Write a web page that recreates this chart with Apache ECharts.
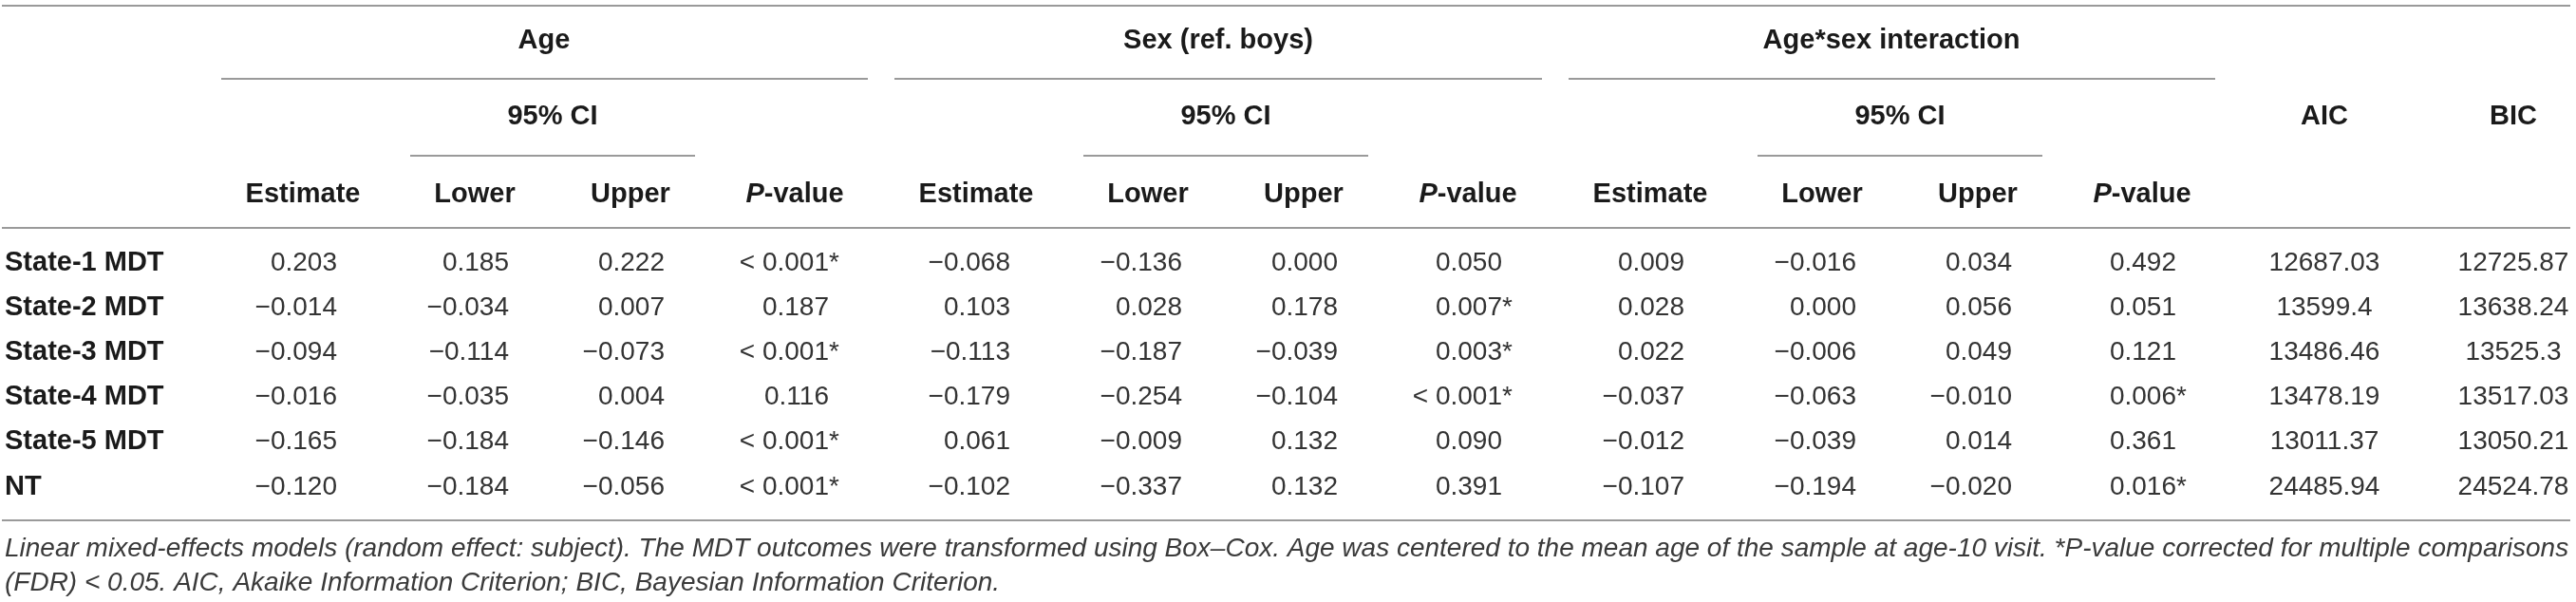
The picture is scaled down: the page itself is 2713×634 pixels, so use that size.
<!DOCTYPE html>
<html>
<head>
<meta charset="utf-8">
<script src="https://cdn.jsdelivr.net/npm/echarts@6/dist/echarts.min.js"></script>
<style>
html,body{margin:0;padding:0;background:#ffffff;}
#chart{width:2713px;height:634px;}
</style>
</head>
<body>
<div id="chart"></div>
<script>
// ---------------- DATA ----------------
const rowLabels = ['State-1 MDT', 'State-2 MDT', 'State-3 MDT', 'State-4 MDT', 'State-5 MDT', 'NT'];
const groupHeaders = ['Age', 'Sex (ref. boys)', 'Age*sex interaction'];
const subHeaders = ['Estimate', 'Lower', 'Upper', '{i|P}-value'];
const ciHeader = '95% CI';
const fitHeaders = ['AIC', 'BIC'];

const ageValues = [
  ['0.203', '0.185', '0.222', '< 0.001*'],
  ['\u22120.014', '\u22120.034', '0.007', '0.187'],
  ['\u22120.094', '\u22120.114', '\u22120.073', '< 0.001*'],
  ['\u22120.016', '\u22120.035', '0.004', '0.116'],
  ['\u22120.165', '\u22120.184', '\u22120.146', '< 0.001*'],
  ['\u22120.120', '\u22120.184', '\u22120.056', '< 0.001*']
];
const sexValues = [
  ['\u22120.068', '\u22120.136', '0.000', '0.050'],
  ['0.103', '0.028', '0.178', '0.007*'],
  ['\u22120.113', '\u22120.187', '\u22120.039', '0.003*'],
  ['\u22120.179', '\u22120.254', '\u22120.104', '< 0.001*'],
  ['0.061', '\u22120.009', '0.132', '0.090'],
  ['\u22120.102', '\u22120.337', '0.132', '0.391']
];
const interactionValues = [
  ['0.009', '\u22120.016', '0.034', '0.492'],
  ['0.028', '0.000', '0.056', '0.051'],
  ['0.022', '\u22120.006', '0.049', '0.121'],
  ['\u22120.037', '\u22120.063', '\u22120.010', '0.006*'],
  ['\u22120.012', '\u22120.039', '0.014', '0.361'],
  ['\u22120.107', '\u22120.194', '\u22120.020', '0.016*']
];
const aicValues = ['12687.03', '13599.4', '13486.46', '13478.19', '13011.37', '24485.94'];
const bicValues = ['12725.87', '13638.24', '13525.3', '13517.03', '13050.21', '24524.78'];

const footnoteLines = [
  'Linear mixed-effects models (random effect: subject). The MDT outcomes were transformed using Box\u2013Cox. Age was centered to the mean age of the sample at age-10 visit. *P-value corrected for multiple comparisons',
  '(FDR) < 0.05. AIC, Akaike Information Criterion; BIC, Bayesian Information Criterion.'
];

// ---------------- LAYOUT (positions / styles) ----------------
const W = 2713, H = 634;
const layout = {
  groupOffset: [0, 709, 1419],
  subCenter: [319, 500, 664, 837],
  valueAnchor: [355, 536, 700, 873],
  groupCenter: [573, 1283, 1992],
  groupLine: [[233, 914], [942, 1624], [1652, 2333]],
  ciCenter: 582,
  ciLine: [432, 732],
  fitCenter: [2448, 2647],
  labelX: 5,
  yGroup: 43, yCI: 123, ySub: 205,
  rowY: [277, 324, 371, 418, 465, 513],
  lineTop: 6, lineGroup: 83, lineCI: 164, lineHead: 240, lineBottom: 548,
  tableX: [2, 2707],
  footX: 5, footY: [578, 614]
};
const FONT = '"Liberation Sans", Arial, Helvetica, sans-serif';
const styles = {
  head: {fontFamily: FONT, fontSize: 29, fontWeight: 'bold', fill: '#1a1a1a'},
  label: {fontFamily: FONT, fontSize: 29, fontWeight: 'bold', fill: '#1a1a1a'},
  num: {fontFamily: FONT, fontSize: 28, fontWeight: 'normal', fill: '#333333'},
  foot: {fontFamily: FONT, fontSize: 28, fontWeight: 'normal', fontStyle: 'italic', fill: '#3a3a3a'},
  line: {stroke: '#9a9a9a', lineWidth: 2}
};

// ---------------- BUILD CELLS ----------------
const cells = [];
function addText(x, y, text, style, align) {
  cells.push({x: x, y: y, text: text, style: style, align: align || 'center'});
}
function addValue(x, y, str) {
  const star = str.endsWith('*');
  const main = star ? str.slice(0, -1) : str;
  addText(x, y, main, styles.num, 'right');
  if (star) addText(x, y, '*', styles.num, 'left');
}
groupHeaders.forEach((g, gi) => addText(layout.groupCenter[gi], layout.yGroup, g, styles.head));
layout.groupOffset.forEach(off => {
  addText(layout.ciCenter + off, layout.yCI, ciHeader, styles.head);
  subHeaders.forEach((s, si) => addText(layout.subCenter[si] + off, layout.ySub, s, styles.head));
});
fitHeaders.forEach((f, fi) => addText(layout.fitCenter[fi], layout.yCI, f, styles.head));
rowLabels.forEach((r, ri) => addText(layout.labelX, layout.rowY[ri], r, styles.label, 'left'));
[ageValues, sexValues, interactionValues].forEach((grp, gi) => {
  grp.forEach((row, ri) => {
    row.forEach((v, ci) => addValue(layout.valueAnchor[ci] + layout.groupOffset[gi], layout.rowY[ri], v));
  });
});
aicValues.forEach((v, ri) => addText(layout.fitCenter[0], layout.rowY[ri], v, styles.num));
bicValues.forEach((v, ri) => addText(layout.fitCenter[1], layout.rowY[ri], v, styles.num));
footnoteLines.forEach((t, i) => addText(layout.footX, layout.footY[i], t, styles.foot, 'left'));

const rules = [];
[layout.lineTop, layout.lineHead, layout.lineBottom].forEach(y => rules.push([layout.tableX[0], y, layout.tableX[1]]));
layout.groupLine.forEach(g => rules.push([g[0], layout.lineGroup, g[1]]));
layout.groupOffset.forEach(off => rules.push([layout.ciLine[0] + off, layout.lineCI, layout.ciLine[1] + off]));

// ---------------- CHART ----------------
const chart = echarts.init(document.getElementById('chart'), null, {renderer: 'canvas'});
chart.setOption({
  animation: false,
  backgroundColor: '#ffffff',
  grid: {left: 0, right: 0, top: 0, bottom: 0, containLabel: false},
  xAxis: {type: 'value', min: 0, max: W, show: false},
  yAxis: {type: 'value', min: 0, max: H, inverse: true, show: false},
  series: [
    {
      type: 'custom',
      clip: false,
      silent: true,
      data: rules,
      renderItem: function (params, api) {
        const p1 = api.coord([api.value(0), api.value(1)]);
        const p2 = api.coord([api.value(2), api.value(1)]);
        return {
          type: 'line',
          shape: {x1: p1[0], y1: p1[1], x2: p2[0], y2: p2[1]},
          style: styles.line
        };
      }
    },
    {
      type: 'custom',
      clip: false,
      silent: true,
      data: cells.map((c, i) => [c.x, c.y, i]),
      renderItem: function (params, api) {
        const c = cells[params.dataIndex];
        const p = api.coord([api.value(0), api.value(1)]);
        const st = Object.assign({}, c.style, {
          text: c.text,
          align: c.align,
          verticalAlign: 'middle',
          rich: {i: Object.assign({}, c.style, {fontStyle: 'italic'})}
        });
        return {type: 'text', x: p[0], y: p[1], style: st};
      }
    }
  ]
});
</script>
</body>
</html>
